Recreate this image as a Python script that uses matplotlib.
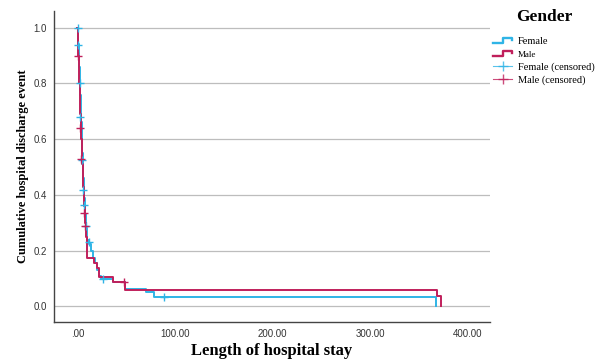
import numpy as np
import matplotlib
matplotlib.use("Agg")
import matplotlib.pyplot as plt
from matplotlib.lines import Line2D
from matplotlib.legend_handler import HandlerBase

# ---- data ----
female_t = [0, 1, 2, 3, 4, 5, 6, 7, 8, 9, 10, 12, 14, 16, 18, 20, 22, 24, 36, 49, 70, 79, 368]
female_s = [1.0, 0.94, 0.86, 0.76, 0.66, 0.55, 0.46, 0.39, 0.33, 0.28, 0.24, 0.225, 0.20, 0.175,
            0.155, 0.13, 0.11, 0.097, 0.088, 0.061, 0.052, 0.035, 0.0]
male_t = [0, 1, 2, 3, 4, 5, 6, 7, 8, 9, 10, 17, 20, 22, 36, 49, 369, 373]
male_s = [1.0, 0.90, 0.80, 0.69, 0.60, 0.51, 0.43, 0.36, 0.30, 0.25, 0.172, 0.154, 0.136,
          0.106, 0.086, 0.058, 0.037, 0.0]

female_cens_t = [0.3, 1.0, 2.4, 3.0, 5.0, 5.8, 7.2, 9.2, 11.5, 26, 89]
female_cens_s = [1.0, 0.938, 0.80, 0.68, 0.527, 0.417, 0.364, 0.29, 0.23, 0.097, 0.035]
male_cens_t = [0.3, 3.0, 3.7, 6.5, 7.9, 48]
male_cens_s = [0.90, 0.64, 0.53, 0.336, 0.29, 0.086]

yticks = [0.0, 0.2, 0.4, 0.6, 0.8, 1.0]
xticks = [0, 100, 200, 300, 400]
xticklabels = [".00", "100.00", "200.00", "300.00", "400.00"]

blue = "#2FB4E6"
pink = "#C01F5B"

fig = plt.figure(figsize=(6.08, 3.59), dpi=100)
ax = fig.add_axes([54/608, 1-322/359, (490-54)/608, (322-11)/359])

for y in yticks:
    ax.axhline(y, color="#BDBDBD", lw=0.9, zorder=0)

ax.step(female_t, female_s, where="post", color=blue, lw=1.4, zorder=2)
ax.step(male_t, male_s, where="post", color=pink, lw=1.4, zorder=3)
ax.plot(female_cens_t, female_cens_s, ls="none", marker="+", ms=5.5, mew=1.0, color=blue, zorder=4)
ax.plot(male_cens_t, male_cens_s, ls="none", marker="+", ms=5.5, mew=1.0, color=pink, zorder=4)

ax.set_xlim(-24, 423)
ax.set_ylim(-0.056, 1.06)
ax.set_yticks(yticks)
ax.set_yticklabels([f"{v:.1f}" for v in yticks])
ax.set_xticks(xticks)
ax.set_xticklabels(xticklabels)
ax.tick_params(axis="y", length=0, pad=5, labelsize=7, labelcolor="#333333")
ax.tick_params(axis="x", length=0, pad=5, labelsize=7, labelcolor="#333333")
for lab in ax.get_xticklabels() + ax.get_yticklabels():
    lab.set_family("Liberation Sans")
for s in ["top", "right"]:
    ax.spines[s].set_visible(False)
for s in ["left", "bottom"]:
    ax.spines[s].set_color("#444444")
    ax.spines[s].set_linewidth(1.0)

ax.set_xlabel("Length of hospital stay", family="Liberation Serif", weight="bold", fontsize=12, labelpad=3)
ax.set_ylabel("Cumulative hospital discharge event", family="Liberation Serif", weight="bold", fontsize=9, labelpad=3)


class StepHandler(HandlerBase):
    def create_artists(self, legend, orig_handle, xdescent, ydescent, width, height, fontsize, trans):
        x0, x1 = -xdescent, -xdescent + width
        y0, y1 = -ydescent + 0.15*height, -ydescent + 0.8*height
        xm = x0 + 0.5*width
        xs = [x0, xm, xm, x1, x1]
        ys = [y0, y0, y1, y1, y0 + 0.3*height]
        ln = Line2D(xs, ys, color=orig_handle.get_color(), lw=1.7, transform=trans)
        return [ln]


h_f = Line2D([], [], color=blue)
h_m = Line2D([], [], color=pink)
h_fc = Line2D([0], [0], color=blue, marker="+", ms=7, lw=0.8, alpha=0.8)
h_mc = Line2D([0], [0], color=pink, marker="+", ms=7, lw=0.8, alpha=0.8)
leg = fig.legend([h_f, h_m, h_fc, h_mc], ["Female", "Male", "Female (censored)", "Male (censored)"],
                 handler_map={h_f: StepHandler(), h_m: StepHandler()},
                 loc="upper left", bbox_to_anchor=(486/608, 1-2/359), frameon=False,
                 title="Gender", prop={"family": "Liberation Serif", "size": 7.5},
                 handlelength=1.8, handletextpad=0.55, labelspacing=0.35, borderpad=0.2)
leg.get_title().set_fontproperties({"family": "Liberation Serif", "weight": "bold", "size": 12.5})
leg.get_texts()[1].set_fontsize(6.5)
leg._legend_box.sep = 8

fig.savefig("out.png", dpi=100)
